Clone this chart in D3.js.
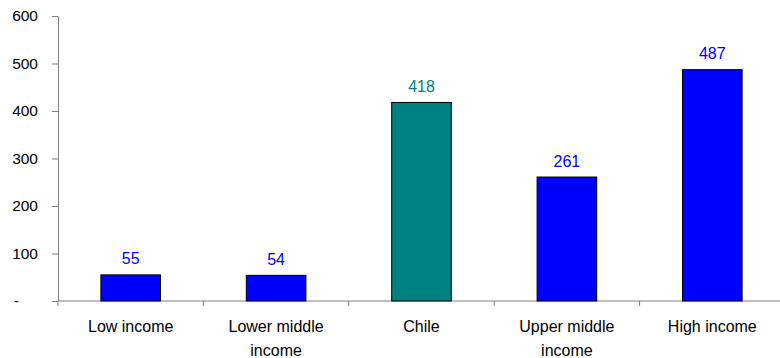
<!DOCTYPE html>
<html>
<head>
<meta charset="utf-8">
<script src="https://cdn.jsdelivr.net/npm/d3@7"></script>
<style>
  html, body { margin: 0; padding: 0; background: #fff; }
  svg text { font-family: "Liberation Sans", Arial, sans-serif; }
</style>
</head>
<body>
<svg id="chart" width="780" height="358"></svg>
<script>
// Income-group comparison
const categories = [["Low income"], ["Lower middle", "income"], ["Chile"], ["Upper middle", "income"], ["High income"]];
const values = [55, 54, 418, 261, 487];
const barColors = ["#0000FF", "#0000FF", "#008080", "#0000FF", "#0000FF"];
const yTicks = [0, 100, 200, 300, 400, 500, 600];
const yTickLabels = ["-", "100", "200", "300", "400", "500", "600"];

(function () {
  const svg = d3.select("#chart");
  const plotLeft = 58, plotRight = 785, plotTop = 16, plotBottom = 301;
  const fontSize = 15.5;

  const x = d3.scaleBand().domain(d3.range(values.length)).range([plotLeft, plotRight]).paddingInner(0.59).paddingOuter(0.295);
  const xOuter = d3.scaleBand().domain(d3.range(values.length)).range([plotLeft, plotRight]);
  const y = d3.scaleLinear().domain([0, 600]).range([plotBottom, plotTop]);

  const axisColor = "#808080";

  // Y axis
  const yAxis = svg.append("g").attr("transform", `translate(${plotLeft},0)`)
    .call(d3.axisLeft(y).tickValues(yTicks).tickFormat((d, i) => yTickLabels[i]).tickSize(6).tickSizeOuter(0));
  yAxis.select(".domain").attr("stroke", axisColor);
  yAxis.selectAll(".tick line").attr("stroke", axisColor);
  yAxis.selectAll(".tick text")
    .attr("x", d => d === 0 ? -39 : -20)
    .attr("font-size", fontSize).attr("fill", "#000")
    .attr("font-family", "Liberation Sans, Arial, sans-serif");

  // X baseline with category boundary ticks
  svg.append("line").attr("x1", plotLeft).attr("x2", 780).attr("y1", plotBottom).attr("y2", plotBottom)
    .attr("stroke", axisColor);
  const bounds = d3.range(values.length + 1).map(i => i < values.length ? xOuter(i) : plotRight);
  svg.append("g").selectAll("line").data(bounds).join("line")
    .attr("x1", d => d).attr("x2", d => d).attr("y1", plotBottom).attr("y2", plotBottom + 5)
    .attr("stroke", axisColor);

  // Bars
  svg.append("g").selectAll("rect").data(values).join("rect")
    .attr("x", (d, i) => x(i))
    .attr("width", x.bandwidth())
    .attr("y", d => y(d))
    .attr("height", d => y(0) - y(d))
    .attr("fill", (d, i) => barColors[i])
    .attr("stroke", "#000").attr("stroke-width", 1);

  // Value labels
  svg.append("g").selectAll("text").data(values).join("text")
    .attr("x", (d, i) => x(i) + x.bandwidth() / 2)
    .attr("y", d => y(d) - 10.5)
    .attr("text-anchor", "middle")
    .attr("font-size", 16)
    .attr("fill", (d, i) => barColors[i])
    .text(d => d);

  // Category labels
  const cat = svg.append("g").selectAll("text").data(categories).join("text")
    .attr("x", (d, i) => xOuter(i) + xOuter.bandwidth() / 2)
    .attr("y", 332)
    .attr("text-anchor", "middle")
    .attr("font-size", 16)
    .attr("fill", "#000");
  cat.each(function (lines) {
    const t = d3.select(this);
    lines.forEach((ln, j) => {
      t.append("tspan").attr("x", t.attr("x")).attr("dy", j === 0 ? 0 : 23.5).text(ln);
    });
  });
})();
</script>
</body>
</html>
